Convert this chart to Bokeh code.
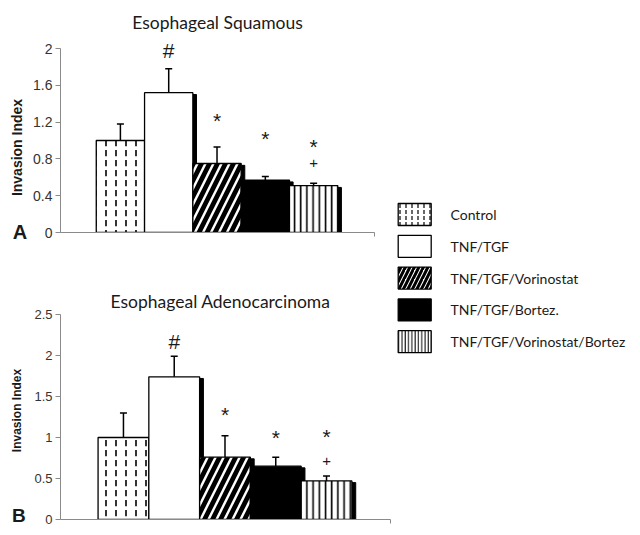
import math
from bokeh.plotting import figure
from bokeh.models import ColumnDataSource, Range1d, FixedTicker, Whisker, TeeHead, Title
from bokeh.layouts import row, column
from bokeh.embed import file_html
from bokeh.resources import INLINE
from bokeh.core.properties import value

# ---------------- data ----------------
groups = ["Control", "TNF/TGF", "TNF/TGF/Vorinostat", "TNF/TGF/Bortez.",
          "TNF/TGF/Vorinostat/Bortez"]

sq_values = [1.00, 1.52, 0.75, 0.57, 0.51]
sq_errors = [0.18, 0.26, 0.18, 0.04, 0.025]
sq_marks = ["", "#", "*", "*", "*"]
sq_mark_y = [math.nan, 2.00, 1.24, 1.04, 0.96]
sq_plus = ["", "", "", "", "+"]
sq_plus_y = [math.nan, math.nan, math.nan, math.nan, 0.76]
sq_ticks = [0, 0.4, 0.8, 1.2, 1.6, 2.0]
sq_tick_labels = ["0", "0.4", "0.8", "1.2", "1.6", "2"]

ad_values = [1.00, 1.74, 0.76, 0.65, 0.47]
ad_errors = [0.30, 0.25, 0.26, 0.11, 0.06]
ad_marks = ["", "#", "*", "*", "*"]
ad_mark_y = [math.nan, 2.19, 1.31, 1.03, 1.04]
ad_plus = ["", "", "", "", "+"]
ad_plus_y = [math.nan, math.nan, math.nan, math.nan, 0.71]
ad_ticks = [0, 0.5, 1.0, 1.5, 2.0, 2.5]
ad_tick_labels = ["0", "0.5", "1", "1.5", "2", "2.5"]

panel_titles = ["Esophageal Squamous", "Esophageal Adenocarcinoma"]
panel_letters = ["A", "B"]
y_label = "Invasion Index"

# ---------------- styles ----------------
fills = ["white", "white", "white", "black", "white"]
patterns = ["vertical_dash", " ", "right_diagonal_line", " ", "vertical_line"]
pat_scale = [10, 12, 16, 12, 6.2]
pat_weight = [1.6, 1, 4.8, 1, 1.6]
leg_scale = [6, 12, 9, 12, 3.3]
leg_weight = [1.2, 1, 3, 1, 1]

X0, X1 = -1.24, 5.26
TXT = "#1a1a1a"
AX = "#8a8a8a"


def panel(title, values, errors, marks, mark_y, plus, plus_y, ticks,
          tick_labels, yend, ybound, width, height, btop, bbot, bright,
          tick_fs, title_standoff, title_align, title_offset):
    xs = list(range(len(values)))
    src = ColumnDataSource(dict(
        x=xs, top=values, upper=[v + e for v, e in zip(values, errors)],
        fill=fills, pat=patterns, sc=pat_scale, wt=pat_weight,
        sx=[x + 0.075 for x in xs], sh_top=[v - 0.02 for v in values],
        mark=marks, my=mark_y, plus=plus, py=plus_y))
    p = figure(width=width, height=height, output_backend="svg",
               toolbar_location=None, x_range=Range1d(X0, X1),
               y_range=Range1d(0, yend), min_border_left=29,
               min_border_right=bright, min_border_top=btop,
               min_border_bottom=bbot)
    p.outline_line_color = None
    p.xgrid.visible = False
    p.ygrid.visible = False
    p.title = Title(text=title, align=title_align, offset=title_offset,
                    standoff=title_standoff, text_font="Lato",
                    text_font_size="17.5px", text_font_style="normal",
                    text_color=TXT)
    # shadow
    p.vbar(x="sx", top="sh_top", bottom=0, width=1, source=src,
           fill_color="black", line_color="black")
    p.vbar(x="x", top="top", bottom=0, width=1, source=src,
           fill_color="fill", line_color="black", line_width=1.3,
           hatch_pattern="pat", hatch_scale="sc", hatch_weight="wt",
           hatch_color="black")
    p.add_layout(Whisker(source=src, base="x", lower="top", upper="upper",
                         line_color="black", line_width=1.5,
                         upper_head=TeeHead(size=7, line_width=1.5,
                                            line_color="black"),
                         lower_head=None, level="overlay"))
    p.text(x="x", y="my", text="mark", source=src, text_align="center",
           text_baseline="middle", text_font=value("Liberation Sans"),
           text_font_size="21px", y_offset=2, text_color=TXT)
    p.text(x="x", y="py", text="plus", source=src, text_align="center",
           text_baseline="middle", text_font=value("Liberation Sans"),
           text_font_size="15px", text_color=TXT)

    yax = p.yaxis[0]
    yax.ticker = FixedTicker(ticks=ticks)
    yax.bounds = (0, ybound)
    yax.major_label_overrides = {t: l for t, l in zip(ticks, tick_labels)}
    yax.minor_tick_line_color = None
    yax.major_tick_in = 0
    yax.major_tick_out = 5
    yax.axis_line_color = AX
    yax.major_tick_line_color = AX
    yax.major_label_text_font = "Liberation Sans"
    yax.major_label_text_font_size = tick_fs
    yax.major_label_text_color = "#333333"
    yax.major_label_standoff = 3

    xax = p.xaxis[0]
    xax.ticker = FixedTicker(ticks=[X1])
    xax.major_label_overrides = {X1: ""}
    xax.minor_tick_line_color = None
    xax.major_tick_in = 0
    xax.major_tick_out = 4
    xax.axis_line_color = AX
    xax.major_tick_line_color = AX
    xax.major_label_text_font_size = "0px"
    xax.major_label_standoff = 0
    return p


p1 = panel(panel_titles[0], sq_values, sq_errors, sq_marks, sq_mark_y,
           sq_plus, sq_plus_y, sq_ticks, sq_tick_labels, 2.12, 2.0,
           350, 250, 37, 18, 6, "14px", 9, "center", 0)
p2 = panel(panel_titles[1], ad_values, ad_errors, ad_marks, ad_mark_y,
           ad_plus, ad_plus_y, ad_ticks, ad_tick_labels, 2.5, 2.5,
           366, 277, 64, 8, 4, "13px", 5, "left", 50)

# ---------------- left strip: axis titles and panel letters ----------------
SW, SH = 30, 527
strip = figure(width=SW, height=SH, output_backend="svg",
               toolbar_location=None, x_range=Range1d(0, SW),
               y_range=Range1d(SH, 0), x_axis_type=None, y_axis_type=None,
               min_border=0)
strip.outline_line_color = None
strip.xgrid.visible = False
strip.ygrid.visible = False
strip.text(x=[16, 16.7], y=[147, 410], text=[y_label, y_label],
           angle=math.pi / 2, text_align="center", text_baseline="middle",
           text_font=value("Liberation Sans"), text_font_style="bold",
           text_font_size=["14px", "12px"], text_color=TXT)
strip.text(x=[12.2, 11.6], y=[231, 515], text=panel_letters,
           text_align="left", text_baseline="middle",
           text_font=value("Liberation Sans"), text_font_style="bold",
           text_font_size=["20px", "19px"], text_color=TXT)

# ---------------- legend ----------------
LW, LH = 240, 527
p3 = figure(width=LW, height=LH, output_backend="svg", toolbar_location=None,
            x_range=Range1d(0, LW), y_range=Range1d(LH, 0),
            x_axis_type=None, y_axis_type=None, min_border=0)
p3.outline_line_color = None
p3.xgrid.visible = False
p3.ygrid.visible = False
ly = [214 + 31.8 * i for i in range(len(groups))]
lsrc = ColumnDataSource(dict(
    x=[18.2] * len(groups), y=ly, tx=[54] * len(groups), label=groups,
    fill=fills, pat=patterns, sc=leg_scale, wt=leg_weight))
p3.rect(x="x", y="y", width=33, height=22, source=lsrc, fill_color="fill",
        line_color="black", line_width=1.3, hatch_pattern="pat",
        hatch_scale="sc", hatch_weight="wt", hatch_color="black")
p3.text(x="tx", y="y", text="label", source=lsrc, text_align="left",
        text_baseline="middle", text_font=value("Lato"),
        text_font_size="14px", text_color=TXT)

layout = row(strip, column(p1, p2), p3)
open("out.html", "w").write(file_html(layout, INLINE))
